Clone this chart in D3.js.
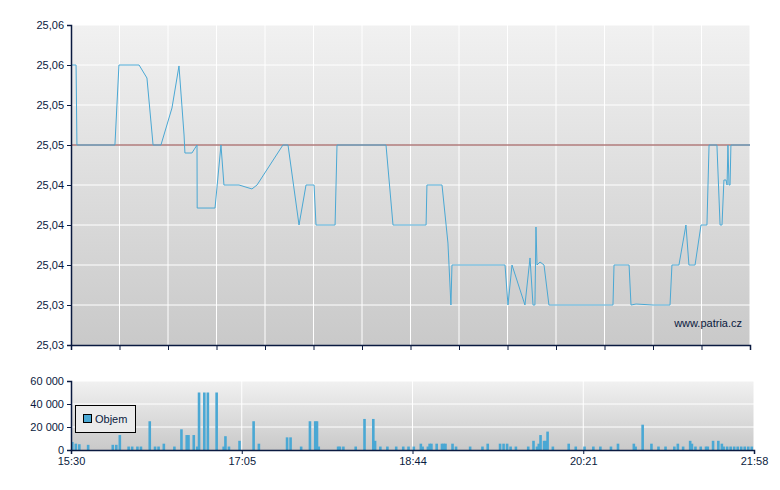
<!DOCTYPE html>
<html>
<head>
<meta charset="utf-8">
<script src="https://cdn.jsdelivr.net/npm/d3@7"></script>
<style>
  body { margin: 0; background: #fff; }
  text { font-family: "Liberation Sans", Arial, sans-serif; font-size: 11px; fill: #0a1a40; }
</style>
</head>
<body>
<div class="chart"></div>
<script>
// price series: minutes after 15:30, price
let priceTimes = [0, 2.9, 3.4, 25.1, 27.4, 38.9, 43.4, 46.9, 51.4, 57.7, 61.7, 64.6, 65.1, 69.1, 72, 72.1, 82.3, 85.7, 87.4, 96, 103.4, 106.3, 121.1, 124, 130.3, 134.3, 138.9, 140, 150.9, 152, 180, 184, 202.9, 203.4, 212, 215.4, 217.1, 217.7, 248, 249.7, 252, 259.4, 262.3, 264, 265.1, 265.7, 266.3, 268, 270.3, 273.1, 309.7, 310.3, 318.9, 320, 322.9, 332.6, 342.3, 343.4, 347.4, 351.4, 353.1, 356.6, 360, 363.4, 364.6, 369.1, 370.9, 372, 373.1, 374.3, 374.9, 375.4, 376, 376.6, 377.1, 378.3, 388]
let priceValues = [25.05625, 25.05625, 25.04875, 25.04875, 25.05625, 25.05625, 25.05503, 25.04875, 25.04875, 25.05222, 25.05616, 25.04969, 25.048, 25.048, 25.04875, 25.04284, 25.04284, 25.04875, 25.045, 25.045, 25.04463, 25.045, 25.04875, 25.04875, 25.04125, 25.045, 25.045, 25.04125, 25.04125, 25.04875, 25.04875, 25.04125, 25.04125, 25.045, 25.045, 25.03956, 25.03375, 25.0375, 25.0375, 25.03375, 25.0375, 25.03375, 25.03816, 25.03375, 25.03375, 25.04106, 25.0375, 25.03778, 25.0375, 25.03375, 25.03375, 25.0375, 25.0375, 25.03375, 25.03384, 25.03375, 25.03375, 25.0375, 25.0375, 25.04125, 25.0375, 25.0375, 25.04125, 25.04125, 25.04875, 25.04875, 25.04125, 25.04125, 25.04547, 25.04547, 25.045, 25.04875, 25.045, 25.045, 25.04875, 25.04875, 25.04875]
let refPrice = 25.04875
let yTickLabels = ["25,06", "25,06", "25,05", "25,05", "25,04", "25,04", "25,04", "25,03", "25,03"]
let xTickLabels = ["15:30", "17:05", "18:44", "20:21", "21:58"]

// volume bars: minutes after 15:30, volume
let volTimes = [0, 2, 4, 9, 23, 25, 27, 32, 34, 37, 39, 44, 47, 49, 52, 58, 62, 65, 66, 69, 71, 72, 75, 77, 82, 86, 87, 89, 95, 103, 106, 122, 124, 130, 135, 138, 139, 140, 151, 152, 154, 161, 166, 171, 172, 175, 179, 184, 188, 191, 194, 198, 199, 202, 203, 204, 207, 210, 211, 212, 216, 218, 226, 233, 236, 243, 245, 247, 249, 252, 259, 262, 264, 265, 266, 268, 269, 270, 273, 282, 286, 291, 296, 300, 306, 310, 319, 320, 324, 329, 333, 337, 342, 344, 347, 351, 352, 354, 357, 360, 361, 364, 367, 369, 370, 372, 374, 376, 378, 380, 382, 384, 386]
let volValues = [7000, 5500, 5000, 4500, 4500, 4500, 13000, 3000, 3000, 3000, 3000, 25000, 3000, 3000, 5500, 3000, 18000, 13000, 13000, 13000, 3000, 50000, 50000, 50000, 50000, 3000, 12000, 3000, 8000, 25000, 5500, 11000, 11000, 3000, 25000, 25000, 25000, 3000, 3000, 3000, 3000, 3000, 27000, 27000, 8000, 3000, 3000, 3000, 3000, 3000, 3000, 5500, 3000, 3000, 5500, 5500, 5500, 5500, 5500, 5500, 5500, 3000, 3000, 3000, 5500, 5500, 5500, 5500, 3000, 3000, 3000, 8000, 3000, 5500, 13000, 8000, 8000, 16000, 3000, 5500, 3000, 3000, 3000, 3000, 3000, 5500, 5500, 3000, 22000, 5500, 3000, 3000, 3000, 5500, 3000, 8000, 5500, 3000, 3000, 3000, 3000, 8000, 8000, 5500, 3000, 3000, 3000, 3000, 3000, 3000, 3000, 3000, 3000]
let volTicks = [0, 20000, 40000, 60000]

let axisColor = "#0a1a40"
let fmt = d3.format(",")
let svg = d3.select(".chart").append("svg").attr("width", 780).attr("height", 490)

let defs = svg.append("defs")
let grad = defs.append("linearGradient").attr("id", "bg").attr("x1", 0).attr("y1", 0).attr("x2", 0).attr("y2", 1)
grad.append("stop").attr("offset", "0%").attr("stop-color", "#f1f1f1")
grad.append("stop").attr("offset", "100%").attr("stop-color", "#c9c9c9")

// main chart
let x = d3.scaleLinear().domain([0, 388]).range([71, 750])
let y = d3.scaleLinear().domain([25.03, 25.06]).range([345, 25])
let yTicks = d3.range(9).map(i => 25.03 + i * 0.00375)

svg.append("rect").attr("x", 71).attr("y", 25).attr("width", 679).attr("height", 320).attr("fill", "url(#bg)")
let gridX = d3.range(1, 15).map(i => i * 388 / 14)
svg.append("g").selectAll("line").data(gridX).enter().append("line")
  .attr("x1", d => x(d)).attr("x2", d => x(d)).attr("y1", 25).attr("y2", 345)
  .attr("stroke", "#fff").attr("stroke-width", 1)
svg.append("g").selectAll("line").data(yTicks.slice(1)).enter().append("line")
  .attr("x1", 71).attr("x2", 750).attr("y1", d => y(d)).attr("y2", d => y(d))
  .attr("stroke", "#fff").attr("stroke-width", 1)

svg.append("line").attr("x1", 71).attr("x2", 750).attr("y1", y(refPrice)).attr("y2", y(refPrice))
  .attr("stroke", "#8a3a3a").attr("stroke-width", 1)

let priceData = priceTimes.map((t, i) => [t, priceValues[i]])
svg.append("path").datum(priceData)
  .attr("d", d3.line().x(d => x(d[0])).y(d => y(d[1])))
  .attr("fill", "none").attr("stroke", "#4aa8d4").attr("stroke-width", 1)

let yAxis = svg.append("g").attr("transform", "translate(71,0)")
  .call(d3.axisLeft(y).tickValues(yTicks).tickSize(4).tickFormat((d, i) => yTickLabels[8 - i]))
let xAxis = svg.append("g").attr("transform", "translate(0,345)")
  .call(d3.axisBottom(x).tickValues(d3.range(0, 15).map(i => i * 388 / 14)).tickSize(5).tickFormat(""))
;[yAxis, xAxis].forEach(a => {
  a.selectAll("path,line").attr("stroke", axisColor)
  a.select(".domain").attr("stroke-width", 1.5)
  a.selectAll("text").attr("fill", axisColor).style("font-size", "11px")
})

svg.append("text").attr("x", 742).attr("y", 327).attr("text-anchor", "end").text("www.patria.cz")

// volume chart
let xv = d3.scaleLinear().domain([0, 388]).range([71, 754])
let yv = d3.scaleLinear().domain([0, 60000]).range([450, 381])

svg.append("rect").attr("x", 71).attr("y", 381).attr("width", 683).attr("height", 69).attr("fill", "url(#bg)")
svg.append("g").selectAll("line").data([97, 194, 291, 388]).enter().append("line")
  .attr("x1", d => xv(d)).attr("x2", d => xv(d)).attr("y1", 381).attr("y2", 450)
  .attr("stroke", "#fff")
svg.append("g").selectAll("line").data(volTicks.slice(1)).enter().append("line")
  .attr("x1", 71).attr("x2", 754).attr("y1", d => yv(d)).attr("y2", d => yv(d))
  .attr("stroke", "#fff")

svg.append("g").selectAll("rect").data(volTimes).enter().append("rect")
  .attr("x", d => xv(d))
  .attr("width", 2.6)
  .attr("y", (d, i) => yv(volValues[i]))
  .attr("height", (d, i) => yv(0) - yv(volValues[i]))
  .attr("fill", "#4aa8d4")

let yvAxis = svg.append("g").attr("transform", "translate(71,0)")
  .call(d3.axisLeft(yv).tickValues(volTicks).tickSize(4).tickFormat(d => fmt(d).replace(",", " ")))
let xvAxis = svg.append("g").attr("transform", "translate(0,450)")
  .call(d3.axisBottom(xv).tickValues([0, 97, 194, 291, 388]).tickSize(4).tickFormat((d, i) => xTickLabels[i]))
;[yvAxis, xvAxis].forEach(a => {
  a.selectAll("path,line").attr("stroke", axisColor)
  a.select(".domain").attr("stroke-width", 1.5)
  a.selectAll("text").attr("fill", axisColor).style("font-size", "11px")
})

// legend
let lg = svg.append("g")
lg.append("rect").attr("x", 75.5).attr("y", 405.5).attr("width", 60).attr("height", 27)
  .attr("fill", "#ebebeb").attr("stroke", "#000")
lg.append("rect").attr("x", 83.5).attr("y", 414.5).attr("width", 8).attr("height", 8)
  .attr("fill", "#4aa8d4").attr("stroke", "#000")
lg.append("text").attr("x", 95).attr("y", 423).text("Objem")
</script>
</body>
</html>
